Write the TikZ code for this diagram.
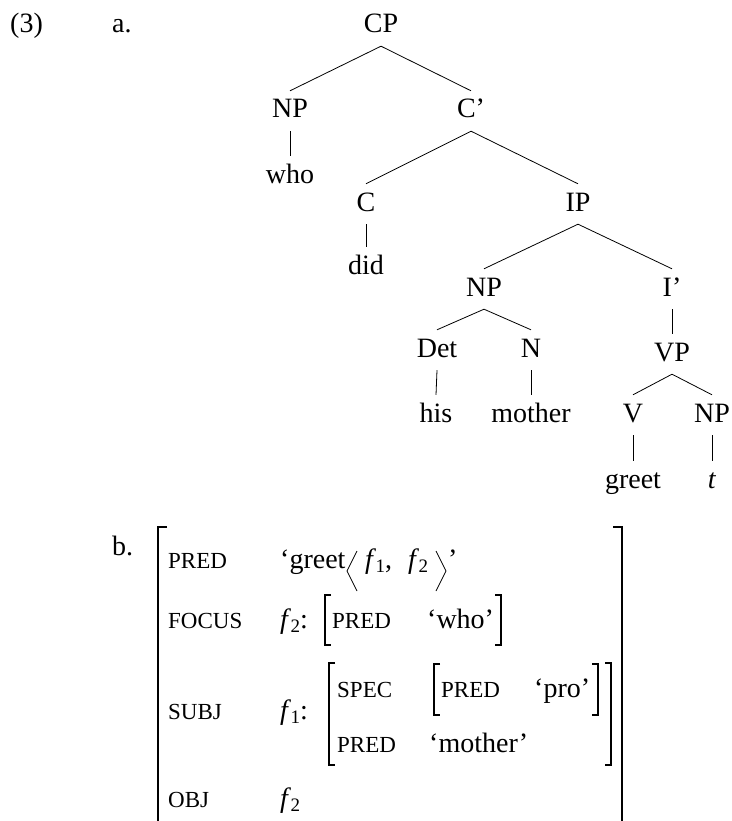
\documentclass[tikz,border=0pt]{standalone}
\usepackage{fontspec}
\setmainfont{Liberation Serif}
% italic f with a roman subscript index
\newcommand\fvar[1]{\textit{f}\kern-0.6pt\raisebox{-4.5pt}{\fontsize{19}{19}\selectfont #1}}
\begin{document}
\begin{tikzpicture}[x=1pt,y=-1pt,
  every node/.style={inner sep=0pt, font=\fontsize{28}{28}\selectfont},
  cat/.style={anchor=base, text height=19pt, text depth=5pt, inner xsep=0pt, inner ysep=8pt},
  branch/.style={line width=0.8pt},
  feat/.style={anchor=base west, font=\fontsize{23}{23}\selectfont},
  val/.style={anchor=base west},
  brk/.style={line width=1.2pt},
  bigbrk/.style={line width=2pt},
  angle/.style={line width=0.8pt},
]
\useasboundingbox (0,0) rectangle (731,821);
\clip (0,0) rectangle (731,821);

% example numbering
\node[anchor=base] (exnum) at (26.5,33) {(3)};
\node[anchor=base west] (lbla) at (112,33) {a.};
\node[anchor=base west] (lblb) at (112,555) {b.};

% ---- phrase-structure tree ----
\node[cat] (cp)     at (381,33)  {CP};
\node[cat] (np1)    at (290,118) {NP};
\node[cat] (cbar)   at (471,118) {C’};
\node[cat] (who)    at (290,183) {who};
\node[cat] (c)      at (366,211) {C};
\node[cat] (ip)     at (578,211) {IP};
\node[cat] (did)    at (366,274) {did};
\node[cat] (np2)    at (484,296) {NP};
\node[cat] (ibar)   at (672,296) {I’};
\node[cat] (det)    at (437,357) {Det};
\node[cat] (n)      at (531,357) {N};
\node[cat] (his)    at (436,422) {his};
\node[cat] (mother) at (531,422) {mother};
\node[cat] (vp)     at (672,361) {VP};
\node[cat] (v)      at (633,422) {V};
\node[cat] (np3)    at (712,422) {NP};
\node[cat] (greet)  at (633,488) {greet};
\node[cat] (t)      at (712,488) {\textit{t}};

\draw[branch] (cp.south) -- (np1.north);
\draw[branch] (cp.south) -- (cbar.north);
\draw[branch] (np1.south) -- (who.north);
\draw[branch] (cbar.south) -- (c.north);
\draw[branch] (cbar.south) -- (ip.north);
\draw[branch] (c.south) -- (did.north);
\draw[branch] (ip.south) -- (np2.north);
\draw[branch] (ip.south) -- (ibar.north);
\draw[branch] (np2.south) -- (det.north);
\draw[branch] (np2.south) -- (n.north);
\draw[branch] (det.south) -- (his.north);
\draw[branch] (n.south) -- (mother.north);
\draw[branch] (ibar.south) -- (vp.north);
\draw[branch] (vp.south) -- (v.north);
\draw[branch] (vp.south) -- (np3.north);
\draw[branch] (v.south) -- (greet.north);
\draw[branch] (np3.south) -- (t.north);

% ---- f-structure ----
% outer brackets
\draw[bigbrk] (167,527) -- (158,527) -- (158,830);
\draw[bigbrk] (613,527) -- (622,527) -- (622,830);

% PRED row
\node[feat] (fpred) at (168,568) {PRED};
\node[val] (vpred) at (280,568) {‘greet};
\draw[angle] (357,551) -- (347,571) -- (357,591);
\node[val] (arg1) at (365,568) {\fvar{1},};
\node[val] (arg2) at (408,568) {\fvar{2}};
\draw[angle] (436,551) -- (446,571) -- (436,591);
\node[val] (rq) at (448,568) {’};

% FOCUS row
\node[feat] (ffocus) at (168,628) {FOCUS};
\node[val] (vfocus) at (280,628) {\fvar{2}:};
\draw[brk] (331,595) -- (325,595) -- (325,645) -- (331,645);
\node[feat] (fwpred) at (332,628) {PRED};
\node[val] (vwho) at (427,628) {‘who’};
\draw[brk] (495,595) -- (501,595) -- (501,645) -- (495,645);

% SUBJ row
\node[feat] (fsubj) at (168,719) {SUBJ};
\node[val] (vsubj) at (280,719) {\fvar{1}:};
\draw[brk] (335,663) -- (329,663) -- (329,765) -- (335,765);
\node[feat] (fspec) at (337,697) {SPEC};
\draw[brk] (440,664) -- (434,664) -- (434,715) -- (440,715);
\node[feat] (fppred) at (441,697) {PRED};
\node[val] (vpro) at (534,697) {‘pro’};
\draw[brk] (592,664) -- (598,664) -- (598,715) -- (592,715);
\node[feat] (fmpred) at (337,752) {PRED};
\node[val] (vmother) at (429,752) {‘mother’};
\draw[brk] (605,663) -- (611,663) -- (611,765) -- (605,765);

% OBJ row
\node[feat] (fobj) at (168,807) {OBJ};
\node[val] (vobj) at (280,807) {\fvar{2}};
\end{tikzpicture}
\end{document}
